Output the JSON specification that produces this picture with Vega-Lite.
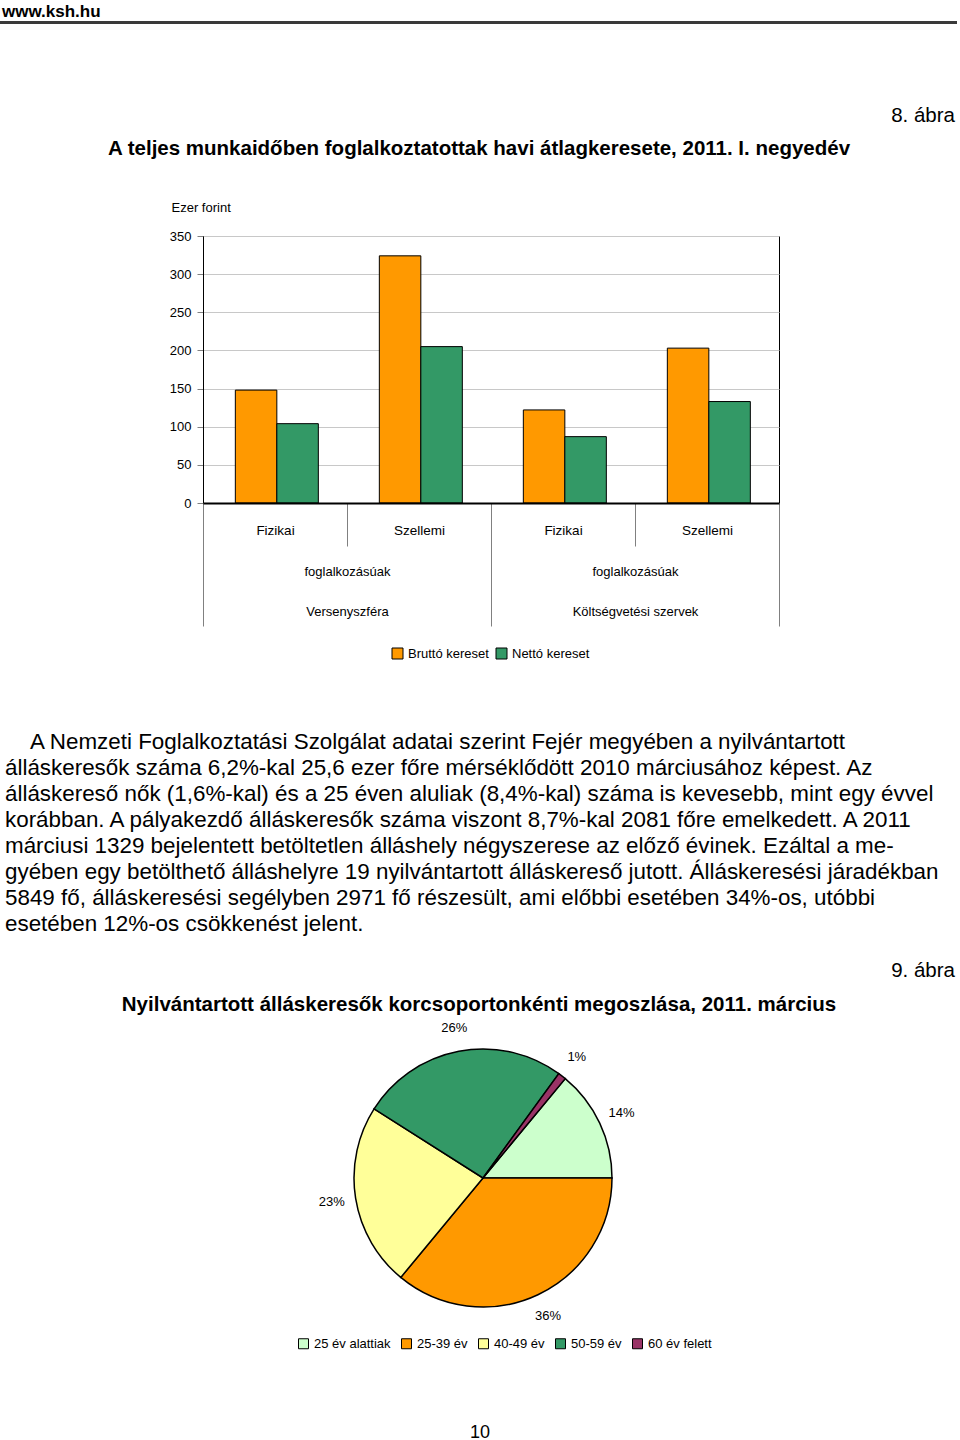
{
  "$schema": "https://vega.github.io/schema/vega-lite/v6.json",
  "background": "white",
  "padding": 0,
  "bounds": "flush",
  "spacing": 0,
  "resolve": {"scale": {"color": "independent"}, "legend": {"color": "independent"}},
  "datasets": {
    "blank": [{}],
    "bars": [
      {"szektor": "Versenyszféra", "kategoria": "Versenyszféra|Fizikai", "sorozat": "Bruttó kereset", "ertek": 148},
      {"szektor": "Versenyszféra", "kategoria": "Versenyszféra|Fizikai", "sorozat": "Nettó kereset", "ertek": 104},
      {"szektor": "Versenyszféra", "kategoria": "Versenyszféra|Szellemi", "sorozat": "Bruttó kereset", "ertek": 324},
      {"szektor": "Versenyszféra", "kategoria": "Versenyszféra|Szellemi", "sorozat": "Nettó kereset", "ertek": 205},
      {"szektor": "Költségvetési szervek", "kategoria": "Költségvetési szervek|Fizikai", "sorozat": "Bruttó kereset", "ertek": 122},
      {"szektor": "Költségvetési szervek", "kategoria": "Költségvetési szervek|Fizikai", "sorozat": "Nettó kereset", "ertek": 87},
      {"szektor": "Költségvetési szervek", "kategoria": "Költségvetési szervek|Szellemi", "sorozat": "Bruttó kereset", "ertek": 203},
      {"szektor": "Költségvetési szervek", "kategoria": "Költségvetési szervek|Szellemi", "sorozat": "Nettó kereset", "ertek": 133}
    ],
    "pie": [
      {"korcsoport": "25 év alattiak", "arany": 0.14},
      {"korcsoport": "25-39 év", "arany": 0.36},
      {"korcsoport": "40-49 év", "arany": 0.23},
      {"korcsoport": "50-59 év", "arany": 0.26},
      {"korcsoport": "60 év felett", "arany": 0.01}
    ]
  },
  "config": {
    "view": {"stroke": null},
    "font": "Liberation Sans",
    "title": {"color": "black", "orient": "bottom", "baseline": "top", "offset": 0, "frame": "group", "limit": 3000, "font": "Liberation Sans", "fontWeight": "normal"}
  },
  "vconcat": [
    {"width": 960, "height": 10, "data": {"name": "blank"}, "mark": {"type": "text", "text": ""},
     "title": {"text": "www.ksh.hu", "anchor": "start", "dx": 2, "offset": -7, "fontSize": 17, "fontWeight": "bold"}},
    {"width": 960, "height": 10, "data": {"name": "blank"}, "mark": {"type": "text", "text": ""}},
    {"width": 957, "height": 3, "data": {"name": "blank"}, "mark": {"type": "text", "text": ""}, "view": {"fill": "#3a3a3a", "stroke": null}},
    {"width": 960, "height": 92, "data": {"name": "blank"}, "mark": {"type": "text", "text": ""},
     "title": {"text": "8. ábra", "anchor": "end", "dx": -5, "offset": -10, "fontSize": 20.5}},
    {"width": 960, "height": 33, "data": {"name": "blank"}, "mark": {"type": "text", "text": ""},
     "title": {"text": "A teljes munkaidőben foglalkoztatottak havi átlagkeresete, 2011. I. negyedév", "anchor": "middle", "dx": -1, "offset": -10, "fontSize": 20.5, "fontWeight": "bold"}},
    {"width": 960, "height": 87, "data": {"name": "blank"}, "mark": {"type": "text", "text": ""}},
    {
      "hconcat": [
        {"width": 203, "height": 267, "data": {"name": "blank"}, "mark": {"type": "text", "text": ""}},
        {
          "width": 576, "height": 267,
          "data": {"name": "bars"},
          "view": {"stroke": "black", "strokeWidth": 1},
          "layer": [
            {
              "mark": {"type": "bar", "stroke": "black", "strokeWidth": 1},
              "encoding": {
                "x": {"field": "kategoria", "type": "nominal", "sort": null,
                  "scale": {"type": "band", "paddingInner": 0, "paddingOuter": 0},
                  "axis": {"orient": "bottom", "title": null, "labelExpr": "split(datum.label, '|')[1]", "labelAngle": 0, "labelBaseline": "middle", "labelPadding": -16,
                    "labelFont": "Liberation Sans", "labelFontSize": 13.5, "labelColor": "black",
                    "tickBand": "extent", "tickSize": 43, "tickColor": "#808080", "tickWidth": 1, "domainColor": "black", "domainWidth": 2, "grid": false, "zindex": 1}},
                "xOffset": {"field": "sorozat", "type": "nominal", "sort": null, "scale": {"paddingInner": 0, "paddingOuter": 0.735, "align": 0.53}},
                "y": {"field": "ertek", "type": "quantitative", "scale": {"domain": [0, 350], "nice": false},
                  "axis": {"title": "Ezer forint", "titleAngle": 0, "titleAlign": "left", "titleBaseline": "middle", "titleX": -32, "titleY": -29,
                    "titleFont": "Liberation Sans", "titleFontSize": 13, "titleFontWeight": "normal", "titleColor": "black",
                    "values": [0, 50, 100, 150, 200, 250, 300, 350],
                    "labelFont": "Liberation Sans", "labelFontSize": 13, "labelColor": "black", "labelPadding": 6,
                    "tickSize": 6, "tickColor": "#808080", "domainColor": "black", "gridColor": "#c8c8c8", "grid": true}},
                "color": {"field": "sorozat", "type": "nominal", "sort": null, "scale": {"range": ["#FF9900", "#339966"]},
                  "legend": {"title": null, "orient": "none", "legendX": 391, "legendY": 411, "direction": "horizontal", "symbolType": "square", "symbolSize": 121,
                    "symbolStrokeColor": "black", "symbolStrokeWidth": 1, "symbolOpacity": 1,
                    "labelFont": "Liberation Sans", "labelFontSize": 13, "labelColor": "black", "labelOffset": 4, "columnPadding": 5}}
              }
            },
            {
              "mark": {"type": "text", "text": ""},
              "encoding": {
                "x": {"field": "szektor", "type": "nominal", "sort": null,
                  "scale": {"type": "band", "paddingInner": 0, "paddingOuter": 0},
                  "axis": {"orient": "bottom", "title": null, "domain": false, "labelExpr": "datum.label ? ['foglalkozásúak', datum.label] : ''", "labelAngle": 0, "labelBaseline": "middle",
                    "labelLineHeight": 40, "labelPadding": -55,
                    "labelFont": "Liberation Sans", "labelFontSize": 13, "labelColor": "black",
                    "tickBand": "extent", "tickSize": 123, "tickColor": "#808080", "tickWidth": 1, "grid": false}}
              }
            }
          ],
          "resolve": {"scale": {"x": "independent"}, "axis": {"x": "independent"}}
        }
      ],
      "spacing": 0,
      "bounds": "flush"
    },
    {"width": 960, "height": 491, "data": {"name": "blank"}, "mark": {"type": "text", "text": ""},
     "title": {"text": [
       "\u200b\u00a0\u00a0\u00a0\u00a0A Nemzeti Foglalkoztatási Szolgálat adatai szerint Fejér megyében a nyilvántartott",
       "álláskeresők száma 6,2%-kal 25,6 ezer főre mérséklődött 2010 márciusához képest. Az",
       "álláskereső nők (1,6%-kal) és a 25 éven aluliak (8,4%-kal) száma is kevesebb, mint egy évvel",
       "korábban. A pályakezdő álláskeresők száma viszont 8,7%-kal 2081 főre emelkedett. A 2011",
       "márciusi 1329 bejelentett betöltetlen álláshely négyszerese az előző évinek. Ezáltal a me-",
       "gyében egy betölthető álláshelyre 19 nyilvántartott álláskereső jutott. Álláskeresési járadékban",
       "5849 fő, álláskeresési segélyben 2971 fő részesült, ami előbbi esetében 34%-os, utóbbi",
       "esetében 12%-os csökkenést jelent."
     ], "anchor": "start", "align": "left", "dx": 5, "fontSize": 22.4, "lineHeight": 26}},
    {"width": 960, "height": 246, "data": {"name": "blank"}, "mark": {"type": "text", "text": ""},
     "title": {"text": "9. ábra", "anchor": "end", "dx": -5, "offset": -12, "fontSize": 20.5}},
    {"width": 960, "height": 34, "data": {"name": "blank"}, "mark": {"type": "text", "text": ""},
     "title": {"text": "Nyilvántartott álláskeresők korcsoportonkénti megoszlása, 2011. március", "anchor": "middle", "dx": -1, "offset": -12, "fontSize": 20.5, "fontWeight": "bold"}},
    {
      "width": 966, "height": 342,
      "data": {"name": "pie"},
      "encoding": {
        "theta": {"field": "arany", "type": "quantitative", "stack": true, "scale": {"type": "linear", "range": [0.6912, 6.9744]}},
        "order": {"field": "korcsoport", "sort": "ascending"},
        "color": {"field": "korcsoport", "type": "nominal", "sort": null,
          "scale": {"range": ["#CCFFCC", "#FF9900", "#FFFF99", "#339966", "#993366"]},
          "legend": {"title": null, "orient": "none", "legendX": 297, "legendY": 330, "direction": "horizontal", "symbolType": "square", "symbolSize": 100,
            "symbolStrokeColor": "black", "symbolStrokeWidth": 1, "symbolOpacity": 1,
            "labelFont": "Liberation Sans", "labelFontSize": 13, "labelColor": "black", "labelOffset": 4, "columnPadding": 8}}
      },
      "layer": [
        {"mark": {"type": "arc", "outerRadius": 129, "stroke": "black", "strokeWidth": 1.5}},
        {"mark": {"type": "text", "radius": 153, "font": "Liberation Sans", "fontSize": 13},
         "encoding": {"text": {"field": "arany", "type": "quantitative", "format": ".0%"}, "color": {"value": "black"}}}
      ]
    },
    {"width": 960, "height": 86, "data": {"name": "blank"}, "mark": {"type": "text", "text": ""},
     "title": {"text": "10", "anchor": "middle", "offset": -11, "fontSize": 18}}
  ]
}
